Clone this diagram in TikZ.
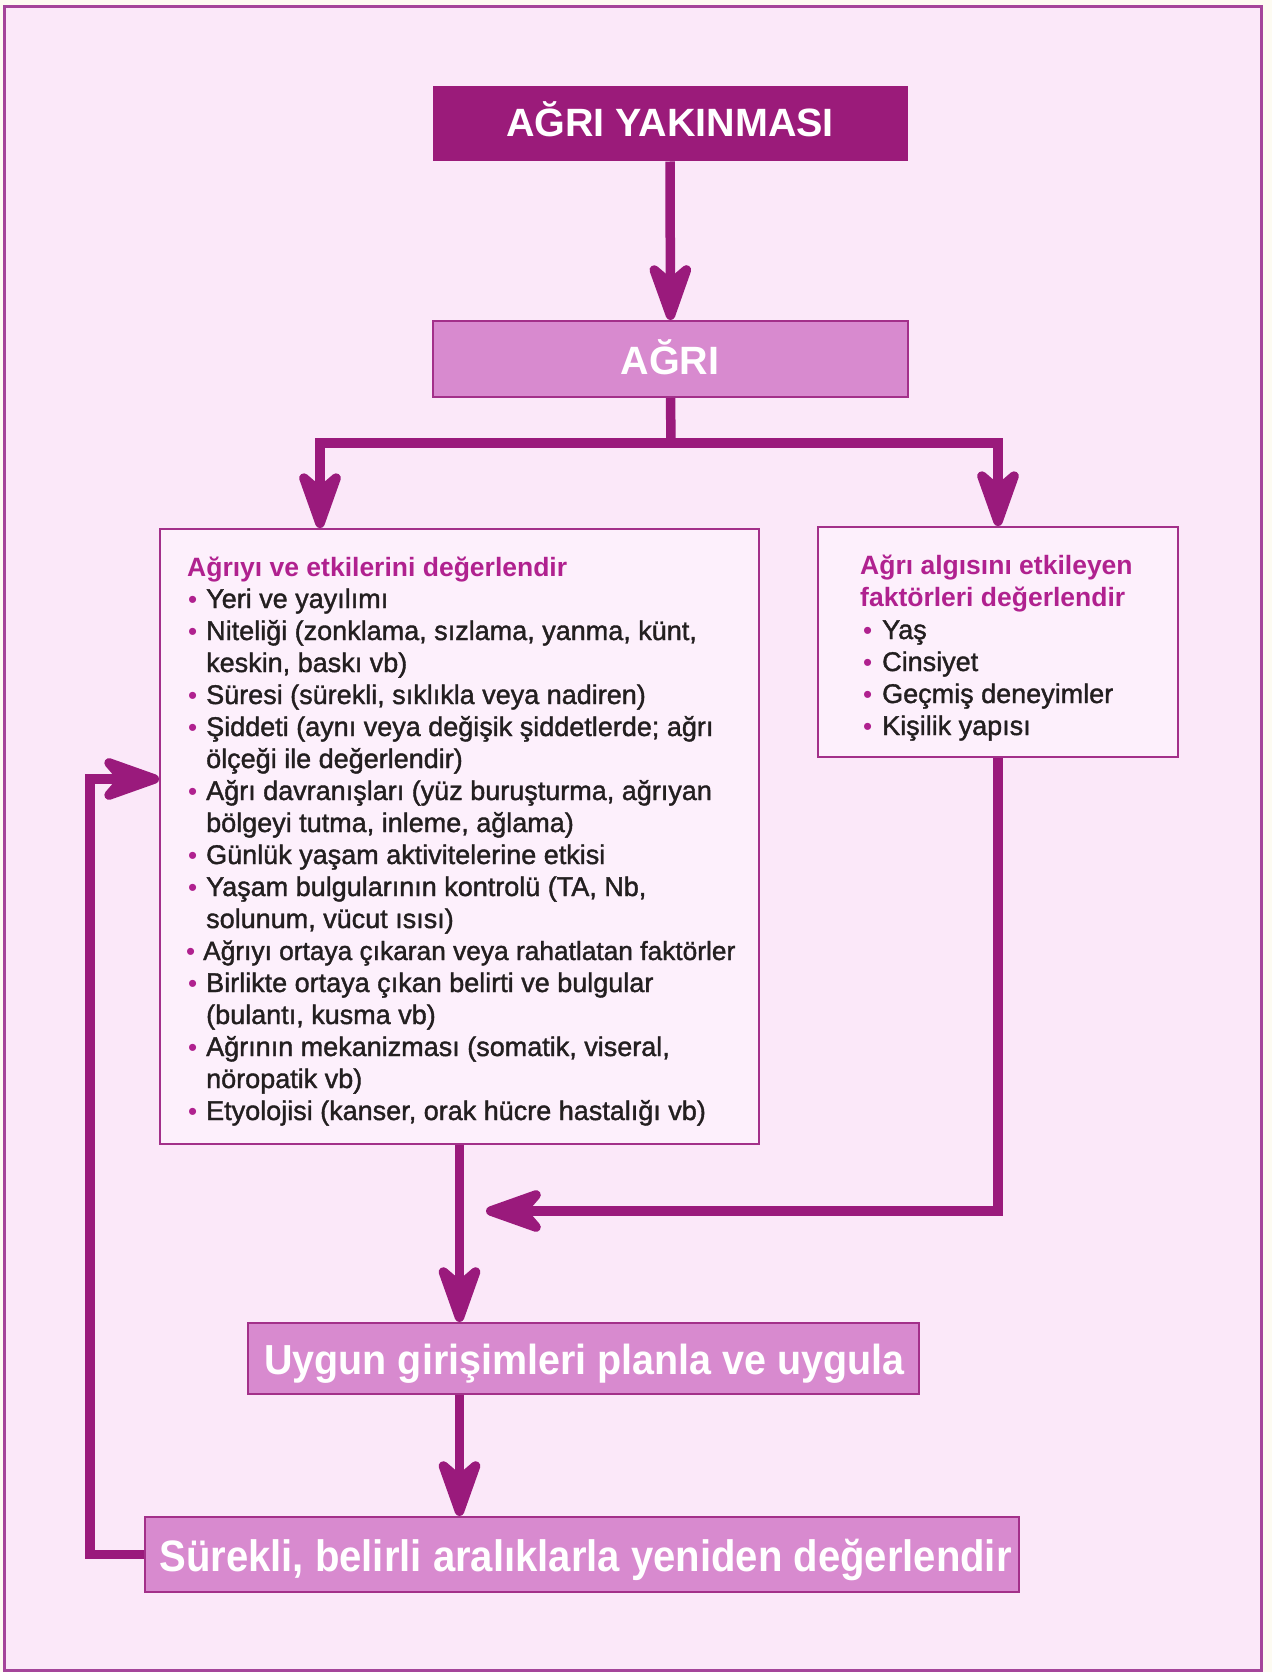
\documentclass[tikz,border=0pt]{standalone}
\usepackage{fontspec}
\setmainfont{Liberation Sans}
\newfontfamily\bodyfont[FakeBold=1.4]{Liberation Sans}
\newfontfamily\headfont{Liberation Sans}
\newfontfamily\condfont[FakeStretch=0.94]{Liberation Sans}
\newfontfamily\condfontb[FakeStretch=0.91]{Liberation Sans}
\usetikzlibrary{arrows.meta}
\definecolor{paper}{HTML}{FDFBF2}
\definecolor{bg}{HTML}{FBE8F9}
\definecolor{framec}{HTML}{A4459A}
\definecolor{darkbox}{HTML}{9B1B7A}
\definecolor{midbox}{HTML}{D88ACF}
\definecolor{boxline}{HTML}{A3308A}
\definecolor{arrowc}{HTML}{9A1A7C}
\definecolor{titlec}{HTML}{B0218F}
\definecolor{ink}{HTML}{231F20}
\definecolor{whitebox}{HTML}{FDF0FC}
\tikzset{
  darkstyle/.style={draw=darkbox, fill=darkbox, line width=1pt, inner sep=0pt},
  midstyle/.style={draw=boxline, fill=midbox, line width=2pt, inner sep=0pt},
  listbox/.style={draw=boxline, fill=whitebox, line width=1.8pt, inner sep=0pt},
  bigtext/.style={text=white, font=\headfont\fontsize{39.5}{42}\selectfont\bfseries, inner sep=0pt, anchor=base},
  condtext/.style={text=white, inner sep=0pt, anchor=base},
  head/.style={text=titlec, font=\headfont\fontsize{26.5}{32}\selectfont\bfseries, inner sep=0pt, anchor=base west},
  body/.style={text=ink, font=\bodyfont\fontsize{27}{32}\selectfont, inner sep=0pt, anchor=base west},
  bul/.style={text=titlec, font=\headfont\fontsize{26}{32}\selectfont, inner sep=0pt, anchor=base west},
  conn/.style={draw=arrowc, line width=9.5pt},
  arr/.style={conn, -{Stealth[length=74pt, width=52pt, inset=22pt, round]}},
}
\begin{document}
\begin{tikzpicture}[x=1pt, y=-1pt]
\useasboundingbox (0,0) rectangle (1272,1672);
\fill[paper] (0,0) rectangle (1272,1672);
\draw[framec, line width=3pt, fill=bg] (4,7) rectangle (1261,1670);

% boxes
\node[darkstyle, minimum width=474pt, minimum height=74pt] (yak) at (670,124) {};
\node[midstyle, minimum width=475pt, minimum height=76pt] (agri) at (670.5,359) {};
\node[listbox, minimum width=599pt, minimum height=615pt] (leftbox) at (459.5,836.5) {};
\node[listbox, minimum width=360pt, minimum height=230pt] (rightbox) at (998,642) {};
\node[midstyle, minimum width=671pt, minimum height=71pt] (uygun) at (583.5,1358.5) {};
\node[midstyle, minimum width=874pt, minimum height=75pt] (surekli) at (582,1554.5) {};

% box texts
\node[bigtext] (yakt) at (670,137) {AĞRI YAKINMASI};
\node[bigtext] (agrit) at (670,374) {AĞRI};
\node[condtext, font=\condfont\fontsize{42}{46}\selectfont\bfseries] (uygunt) at (584.5,1374) {Uygun girişimleri planla ve uygula};
\node[condtext, font=\condfontb\fontsize{44}{48}\selectfont\bfseries] (surekt) at (585.5,1571) {Sürekli, belirli aralıklarla yeniden değerlendir};

% left list
\node[head] (lh) at (187,576) {Ağrıyı ve etkilerini değerlendir};
\node[bul] (lb1) at (188,608) {•};   \node[body] (l1) at (206,608) {Yeri ve yayılımı};
\node[bul] (lb2) at (188,640) {•};   \node[body] (l2) at (206,640) {Niteliği (zonklama, sızlama, yanma, künt,};
\node[body] (l3) at (206,672) {keskin, baskı vb)};
\node[bul] (lb4) at (188,704) {•};   \node[body] (l4) at (206,704) {Süresi (sürekli, sıklıkla veya nadiren)};
\node[bul] (lb5) at (188,736) {•};   \node[body] (l5) at (206,736) {Şiddeti (aynı veya değişik şiddetlerde; ağrı};
\node[body] (l6) at (206,768) {ölçeği ile değerlendir)};
\node[bul] (lb7) at (188,800) {•};   \node[body] (l7) at (206,800) {Ağrı davranışları (yüz buruşturma, ağrıyan};
\node[body] (l8) at (206,832) {bölgeyi tutma, inleme, ağlama)};
\node[bul] (lb9) at (188,864) {•};   \node[body] (l9) at (206,864) {Günlük yaşam aktivitelerine etkisi};
\node[bul] (lb10) at (188,896) {•};  \node[body] (l10) at (206,896) {Yaşam bulgularının kontrolü (TA, Nb,};
\node[body] (l11) at (206,928) {solunum, vücut ısısı)};
\node[bul] (lb12) at (186,960) {•};  \node[body, font=\bodyfont\fontsize{26.3}{32}\selectfont] (l12) at (203,960) {Ağrıyı ortaya çıkaran veya rahatlatan faktörler};
\node[bul] (lb13) at (188,992) {•};  \node[body] (l13) at (206,992) {Birlikte ortaya çıkan belirti ve bulgular};
\node[body] (l14) at (206,1024) {(bulantı, kusma vb)};
\node[bul] (lb15) at (188,1056) {•}; \node[body] (l15) at (206,1056) {Ağrının mekanizması (somatik, viseral,};
\node[body] (l16) at (206,1088) {nöropatik vb)};
\node[bul] (lb17) at (188,1120) {•}; \node[body] (l17) at (206,1120) {Etyolojisi (kanser, orak hücre hastalığı vb)};

% right list
\node[head] (rh1) at (860,574) {Ağrı algısını etkileyen};
\node[head] (rh2) at (860,606.5) {faktörleri değerlendir};
\node[bul] (rb1) at (863,639) {•}; \node[body] (r1) at (882,639) {Yaş};
\node[bul] (rb2) at (863,671) {•}; \node[body] (r2) at (882,671) {Cinsiyet};
\node[bul] (rb3) at (863,703) {•}; \node[body] (r3) at (882,703) {Geçmiş deneyimler};
\node[bul] (rb4) at (863,735) {•}; \node[body] (r4) at (882,735) {Kişilik yapısı};

% connectors
\coordinate (bj) at (671,443);
\coordinate (lx) at (320,0);
\coordinate (mj) at (486,1211);
\coordinate (fb) at (90,779);

\draw[arr] (yak.south) -- (agri.north);
\draw[conn] (agri.south) -- (bj);
\draw[arr] (bj) -| (lx |- leftbox.north);
\draw[arr] (bj) -| (rightbox.north);
\draw[arr] (rightbox.south) |- (mj);
\draw[arr] (leftbox.south) -- (leftbox.south |- uygun.north);
\draw[arr] (leftbox.south |- uygun.south) -- (leftbox.south |- surekli.north);
\draw[arr] (surekli.west) -| (fb) -- (fb -| leftbox.west);
\end{tikzpicture}
\end{document}
